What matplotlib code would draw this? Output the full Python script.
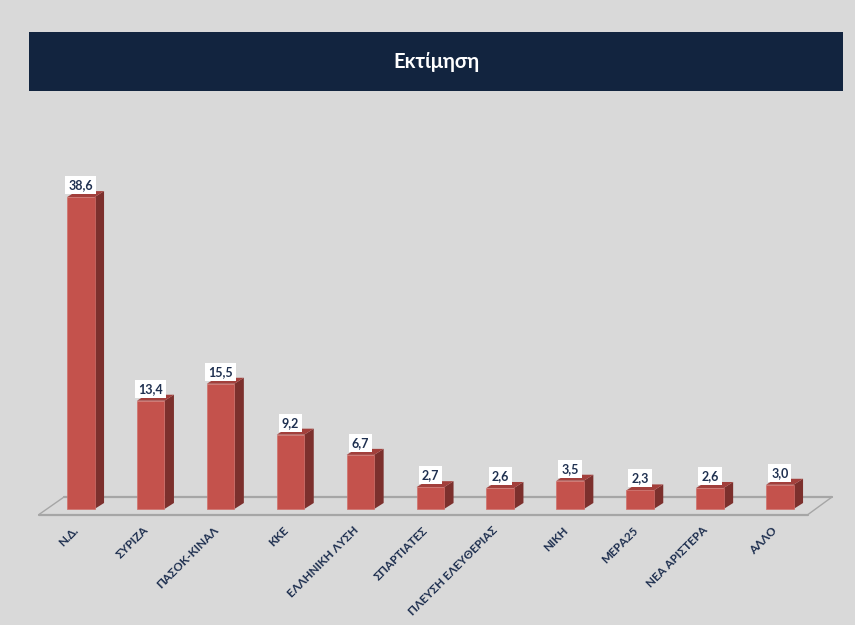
import matplotlib
matplotlib.use("Agg")
import matplotlib.pyplot as plt
from matplotlib.patches import Rectangle, Polygon

categories = ["Ν.Δ.", "ΣΥΡΙΖΑ", "ΠΑΣΟΚ-ΚΙΝΑΛ", "ΚΚΕ", "ΕΛΛΗΝΙΚΗ ΛΥΣΗ", "ΣΠΑΡΤΙΑΤΕΣ",
              "ΠΛΕΥΣΗ ΕΛΕΥΘΕΡΙΑΣ", "ΝΙΚΗ", "ΜΕΡΑ25", "ΝΕΑ ΑΡΙΣΤΕΡΑ", "ΑΛΛΟ"]
values = [38.6, 13.4, 15.5, 9.2, 6.7, 2.7, 2.6, 3.5, 2.3, 2.6, 3.0]
labels = ["38,6", "13,4", "15,5", "9,2", "6,7", "2,7", "2,6", "3,5", "2,3", "2,6", "3,0"]
title = "Εκτίμηση"

W, H = 855, 625
BG = "#d9d9d9"; NAVY = "#12243f"; TXT = "#1f3050"
FRONT = "#c4524c"; SIDE = "#7c302d"; TOP = "#a23f3b"; EDGE = "#d0706a"
plt.rcParams["font.family"] = ["Lato", "DejaVu Sans"]

fig = plt.figure(figsize=(W / 100, H / 100), dpi=100, facecolor=BG)
fig.add_artist(Rectangle((29 / W, 1 - 91 / H), 814 / W, 59 / H, transform=fig.transFigure,
                         facecolor=NAVY, edgecolor="none"))
fig.text(436 / W, 1 - 62 / H, title, color="white", fontsize=14.5, fontweight="bold", ha="center", va="center")

X0 = 80.8
left, right = 39, 808
bottom_px, top_px = 514.5, 130
ax = fig.add_axes([left / W, 1 - bottom_px / H, (right - left) / W, (bottom_px - top_px) / H])
px = 69.9; py = 8.08
ax.set_xlim((left - X0) / px, (right - X0) / px)
ax.set_ylim((509 - bottom_px) / py, (509 - top_px) / py)
ax.axis("off")

bw = 27.5 / px; dx = 9.5 / px; dy = 6.0 / py
y0, yb = ax.get_ylim()[0], ax.get_ylim()[0] + 17.5 / py
xl, xr = ax.get_xlim()

floor = dict(color="#a6a6a6", lw=1.6, zorder=1, clip_on=False, solid_capstyle="round")
ax.plot([xl, xr], [y0, y0], **floor)
ax.plot([xl + 25 / px, xr + 24 / px], [yb, yb], **floor)
ax.plot([xl, xl + 25 / px], [y0, yb], color="#a6a6a6", lw=1, zorder=1, clip_on=False)
ax.plot([xr, xr + 24 / px], [y0, yb], color="#a6a6a6", lw=1, zorder=1, clip_on=False)

for i, (v, lab, cat) in enumerate(zip(values, labels, categories)):
    a, b = i - bw / 2, i + bw / 2
    ax.add_patch(Polygon([(b, 0), (b + dx, dy), (b + dx, v + dy), (b, v)], facecolor=SIDE, edgecolor="none", zorder=3))
    ax.add_patch(Polygon([(a, v), (a + dx, v + dy), (b + dx, v + dy), (b, v)], facecolor=TOP, edgecolor="none", zorder=3))
    ax.add_patch(Rectangle((a, 0), bw, v, facecolor=FRONT, edgecolor=EDGE, lw=0.5, zorder=4))
    ax.annotate(lab, (i, v), xytext=(0, 12 / 100 * 72), textcoords="offset points", ha="center", va="center",
                fontsize=9, fontweight="bold", color=TXT, zorder=6,
                bbox=dict(boxstyle="square,pad=0.24", facecolor="white", edgecolor="none"))
    ax.annotate(cat, (i, y0), xytext=(-8 / 100 * 72, -10 / 100 * 72), textcoords="offset points",
                rotation=45, rotation_mode="anchor", ha="right", va="top",
                fontsize=8.4, fontweight="bold", color=TXT, annotation_clip=False)

fig.savefig("out.png", dpi=100, facecolor=BG)
